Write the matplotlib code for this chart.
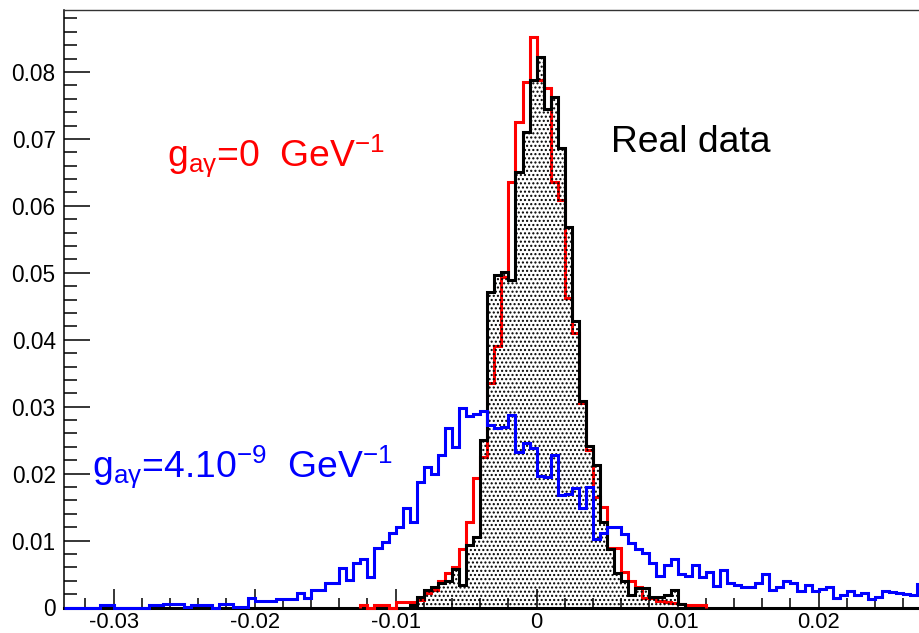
import numpy as np
import matplotlib
matplotlib.use("Agg")
import matplotlib.pyplot as plt
from matplotlib.ticker import MultipleLocator, FixedLocator

# histogram binning
BIN_W = 0.0005

# g_ay = 4.10^-9 GeV^-1 (blue), bins from -0.0335
blue_x0 = -0.0335
blue = [
    0, 0, 0, 0, 0, 0.0003, 0.0003, 0, 0, 0, 0, 0, 0.0003, 0.0003,
    0.0005, 0.0005, 0.0005, 0.0001, 0.0003, 0.0003, 0.0003, 0, 0.0005, 0.0005,
    0.0001, 0.0001, 0.0014, 0.0009, 0.0009, 0.0009, 0.0012, 0.0012, 0.0012,
    0.0021, 0.0014, 0.0026, 0.0026, 0.0036, 0.0036,
    0.0059, 0.0041, 0.0066, 0.0073, 0.0045, 0.0089, 0.0098, 0.0111, 0.0121,
    0.0148, 0.0127, 0.0187, 0.0210, 0.0199, 0.0228, 0.0268, 0.0240, 0.0298,
    0.0286, 0.0289, 0.0294, 0.0273, 0.0268, 0.0270, 0.0288, 0.0233, 0.0245,
    0.0238,
    0.0196, 0.0195, 0.0228, 0.0168, 0.0170, 0.0178, 0.0148, 0.0180, 0.0103, 0.0111,
    0.0121, 0.0121, 0.0110, 0.0097, 0.0088, 0.0081, 0.0066, 0.0047, 0.0063, 0.0073,
    0.0050, 0.0047, 0.0063, 0.0045, 0.0053, 0.0032, 0.0056, 0.0037, 0.0034, 0.0031,
    0.0031, 0.0037, 0.0050, 0.0026, 0.0031, 0.0040, 0.0036, 0.0025, 0.0033, 0.0024,
    0.0027, 0.0030, 0.0014, 0.0019, 0.0025, 0.0018, 0.0022, 0.0012, 0.0016, 0.0025,
    0.0023, 0.0021, 0.0020, 0.0019, 0.0035,
]

# g_ay = 0 (red), bins from -0.0125
red_x0 = -0.0125
red = [
    0.0003, 0, 0.0003, 0.0003, 0, 0.0008, 0.0008, 0.0008, 0.0011, 0.0021,
    0.0026, 0.0039, 0.0051, 0.0061, 0.0088, 0.0128, 0.0193, 0.0225, 0.0335,
    0.0390, 0.0494, 0.0636, 0.0726, 0.0785, 0.0853,
    0.0788, 0.0776, 0.0635, 0.0609, 0.0462, 0.0410, 0.0306, 0.0235, 0.0165,
    0.0150, 0.0089, 0.0089, 0.0053, 0.0040, 0.0031, 0.0014, 0.0014, 0.0009,
    0.0008, 0.0007, 0.0005, 0.0004, 0.0004, 0.0004,
]

# real data (black, dotted fill), bins from -0.009
data_x0 = -0.009
data = [
    0.0003, 0.0015, 0.0026, 0.0031, 0.0036, 0.0040, 0.0058, 0.0034, 0.0093,
    0.0106, 0.0250, 0.0472, 0.0496, 0.0501, 0.0489, 0.0650, 0.0711, 0.0788,
    0.0822, 0.0744, 0.0762, 0.0687, 0.0568, 0.0428, 0.0309, 0.0242, 0.0213,
    0.0128, 0.0088, 0.0051, 0.0039, 0.0019, 0.0029, 0.0029, 0.0016, 0.0016,
    0.0019, 0.0026, 0.0005,
]

x_ticks = [-0.03, -0.02, -0.01, 0.0, 0.01, 0.02]
x_labels = ["-0.03", "-0.02", "-0.01", "0", "0.01", "0.02"]
y_ticks = [0, 0.01, 0.02, 0.03, 0.04, 0.05, 0.06, 0.07, 0.08]
y_labels = ["0", "0.01", "0.02", "0.03", "0.04", "0.05", "0.06", "0.07", "0.08"]


def bin_edges(x0, values):
    return x0 + BIN_W * np.arange(len(values) + 1)


plt.rcParams["font.family"] = ["Liberation Sans", "DejaVu Sans"]
plt.rcParams["mathtext.fontset"] = "custom"
plt.rcParams["mathtext.rm"] = "Liberation Sans"
plt.rcParams["mathtext.it"] = "Liberation Sans"
plt.rcParams["hatch.color"] = "black"
plt.rcParams["hatch.linewidth"] = 1.0

fig = plt.figure(figsize=(9.19, 6.33), dpi=100)
ax = fig.add_axes([64 / 919, 1 - 607.5 / 633, (930 - 64) / 919, (607.5 - 10) / 633])

lw = 2.2
ax.stairs(red, bin_edges(red_x0, red), color="#ff0000", lw=lw,
          baseline=0, zorder=3, clip_on=False)
ax.stairs(data, bin_edges(data_x0, data), fill=True, facecolor="none",
          edgecolor="black", hatch="....", lw=0, zorder=3.1)
ax.stairs(data, bin_edges(data_x0, data), color="black", lw=lw,
          baseline=0, zorder=3.2, clip_on=False)
ax.stairs(blue, bin_edges(blue_x0, blue), color="#0000ff", lw=lw,
          baseline=0, zorder=3.3, clip_on=False)

ax.set_xlim(-0.03352, 0.02790)
ax.set_ylim(0, 0.08926)

ax.xaxis.set_major_locator(FixedLocator(x_ticks))
ax.set_xticklabels(x_labels)
ax.xaxis.set_minor_locator(MultipleLocator(0.002))
ax.yaxis.set_major_locator(FixedLocator(y_ticks))
ax.set_yticklabels(y_labels)
ax.yaxis.set_minor_locator(MultipleLocator(0.002))

ax.tick_params(axis="y", which="major", direction="in", length=18.5, width=1.1,
               labelsize=16.3, pad=6)
ax.tick_params(axis="y", which="minor", direction="in", length=9.3, width=1.1)
ax.tick_params(axis="x", which="major", direction="in", length=13.5, width=1.1,
               labelsize=15.8, pad=3)
ax.tick_params(axis="x", which="minor", direction="in", length=7, width=1.1)

ax.spines["left"].set_linewidth(1.1)
ax.spines["bottom"].set_linewidth(2.2)
ax.spines["top"].set_linewidth(1.0)
ax.spines["top"].set_color("#333333")

ax.text(-0.0262, 0.0659,
        r"$\mathregular{g_{aγ}}$=0  GeV$\mathregular{^{-1}}$",
        color="#ff0000", fontsize=26.8, va="baseline", ha="left")
ax.text(-0.0315, 0.0195,
        r"$\mathregular{g_{aγ}}$=4.10$\mathregular{^{-9}}$  GeV$\mathregular{^{-1}}$",
        color="#0000ff", fontsize=26.8, va="baseline", ha="left")
ax.text(0.00528, 0.0680, "Real data", color="black", fontsize=26.8,
        va="baseline", ha="left")

fig.savefig("out.png", dpi=100)
